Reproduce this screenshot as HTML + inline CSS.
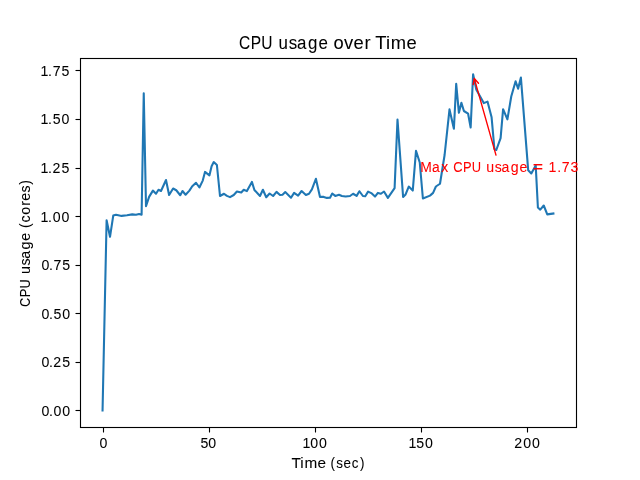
<!DOCTYPE html>
<html lang="en">
<head>
<meta charset="utf-8">
<title>CPU usage over Time</title>
<style>
html,body{margin:0;padding:0;background:#ffffff;}
body{width:640px;height:480px;overflow:hidden;font-family:"Liberation Sans",sans-serif;}
svg{display:block;will-change:transform;}
text{font-family:"Liberation Sans",sans-serif;fill:#000000;stroke:#000000;stroke-width:0.06px;white-space:pre;}
text.red{fill:#ff0000;stroke:#ff0000;}
</style>
</head>
<body>
<svg width="640" height="480" viewBox="0 0 640 480" role="img" aria-label="CPU usage over Time line chart">
<rect x="0" y="0" width="640" height="480" fill="#ffffff"/>
<!-- data line -->
<polyline fill="none" stroke="#1f77b4" stroke-width="2.083" stroke-linejoin="round" stroke-linecap="square" points="102.55,410.4 106.6,220.2 110,236.8 113.25,215.6 116,214.75 121.6,215.9 127,215.2 132.25,214.4 136,214.75 139.1,214.1 141.6,214.75 143.75,93.3 146,206.25 149.1,196.9 152.9,190.6 156,193.75 158.5,189.75 161,191 166,180 169.1,195 173.1,188.5 176.25,190.25 180.25,195.25 182.5,191 185.6,194.75 189.4,190.6 192.25,186.25 196,182.75 199.4,187.5 202.75,180.6 205,171.9 209.4,175.4 211.6,166.25 213.75,162.1 216.9,165 220,196 224,193.75 226.9,195.9 230,197.1 233.75,195 236.9,191.5 241.25,192.5 243.75,189.75 246.9,191.1 251.9,181.9 254.4,190 260,196 262.9,189.75 266.25,197.25 269.6,193.5 273.1,196 276.5,191.9 280,195 282.5,194.75 285.25,192.1 291,197.75 294.1,192.9 298.1,195.6 301.6,191 305.9,195 309,193.75 311.9,189.4 315.9,178.75 320,196.9 323.75,196.9 326.9,197.9 330,197.75 332.25,193.5 335.25,195.9 339,194.75 341.9,196 345.6,196.5 350,196 353.1,193.75 356.6,195.9 359.4,191.25 362.9,196 365.25,196.25 368.1,191.6 371.25,193.1 375,196.6 377.9,192.9 380.9,193.75 384,191.5 387.9,197.9 394.6,188.1 397.5,119.5 403.1,196.9 405.6,194.4 408.75,186.6 412.75,190.6 416,150.8 419.75,162.5 422.9,198.5 430,195.6 433.1,192.9 435.9,186.5 440,183.75 444.6,155 449.5,109.4 453.9,128.8 456.2,83.9 458.9,112.8 461.4,102.7 463.9,111 468.1,113.7 470.65,127.5 473.1,74.3 476.25,89.4 483.75,103.1 487.5,101.6 491.6,117.3 494.4,149 496.3,150 500.6,138.1 503.1,109.2 507.4,119.3 511.25,96.5 515.6,81.3 518.1,88.7 520.9,77.6 528.2,170.3 531.3,173.5 535.7,165.4 537.9,207.5 540.25,209.6 543.75,205.5 547.25,214.4 553.4,213.5"/>
<!-- ticks and spines -->
<g stroke="#000000" stroke-width="1.111" fill="none">
<line x1="103.5" y1="427.5" x2="103.5" y2="432.5"/>
<line x1="209.5" y1="427.5" x2="209.5" y2="432.5"/>
<line x1="315.5" y1="427.5" x2="315.5" y2="432.5"/>
<line x1="421.5" y1="427.5" x2="421.5" y2="432.5"/>
<line x1="527.5" y1="427.5" x2="527.5" y2="432.5"/>
<line x1="75.5" y1="410.5" x2="80.5" y2="410.5"/>
<line x1="75.5" y1="362.5" x2="80.5" y2="362.5"/>
<line x1="75.5" y1="313.5" x2="80.5" y2="313.5"/>
<line x1="75.5" y1="265.5" x2="80.5" y2="265.5"/>
<line x1="75.5" y1="216.5" x2="80.5" y2="216.5"/>
<line x1="75.5" y1="168.5" x2="80.5" y2="168.5"/>
<line x1="75.5" y1="119.5" x2="80.5" y2="119.5"/>
<line x1="75.5" y1="70.5" x2="80.5" y2="70.5"/>
<rect x="80.5" y="58.5" width="496" height="369"/>
</g>
<!-- annotation arrow -->
<g stroke="#ff0000" stroke-width="1.389" fill="none" stroke-linecap="round" stroke-linejoin="round">
<line x1="495.98" y1="155.08" x2="474.32" y2="78.57"/>
<polyline points="473.16,84.67 474.32,78.57 478.51,83.16"/>
</g>
<!-- text: one run per word; glyph x positions follow the reference layout -->
<text transform="translate(98.17,448) scale(0.957,1)" font-size="14.8" x="1.29" y="0">0</text>
<text transform="translate(199.93,448) scale(0.957,1)" font-size="14.8" x="0.48 8.6" y="0">50</text>
<text transform="translate(301.63,448) scale(0.957,1)" font-size="14.8" x="0.87 9.04 18.18" y="0">100</text>
<text transform="translate(407.77,448) scale(0.957,1)" font-size="14.8" x="0.72 8.87 18.04" y="0">150</text>
<text transform="translate(513.97,448) scale(0.957,1)" font-size="14.8" x="0.29 9.6 18.74" y="0">200</text>
<text transform="translate(39.65,416) scale(0.957,1)" font-size="14.8" x="1.83 9.74 14.5 23.65" y="0">0.00</text>
<text transform="translate(39.65,367) scale(0.957,1)" font-size="14.8" x="1.83 9.74 14.34 23.63" y="0">0.25</text>
<text transform="translate(39.65,319) scale(0.957,1)" font-size="14.8" x="1.83 9.74 14.49 23.65" y="0">0.50</text>
<text transform="translate(39.65,270) scale(0.957,1)" font-size="14.8" x="1.83 9.74 14.53 23.63" y="0">0.75</text>
<text transform="translate(39.53,222) scale(0.957,1)" font-size="14.8" x="0.97 8.95 13.72 22.86" y="0">1.00</text>
<text transform="translate(39.53,173) scale(0.957,1)" font-size="14.8" x="0.97 8.95 13.55 22.84" y="0">1.25</text>
<text transform="translate(39.53,124) scale(0.957,1)" font-size="14.8" x="0.97 8.95 13.7 22.86" y="0">1.50</text>
<text transform="translate(39.53,76) scale(0.957,1)" font-size="14.8" x="0.97 8.95 13.74 22.84" y="0">1.75</text>
<text transform="translate(239.12,49) scale(0.873,1)" font-size="17.76" x="-0.08 13.22 25.23 38.66" y="0">CPU </text>
<text transform="translate(239.12,49) scale(0.9518,1)" font-size="17.76" x="41.5 52.27 60.95 72.29 83.31 93.64" y="0">usage </text>
<text transform="translate(239.12,49) scale(1.0341,1)" font-size="17.76" x="91.2 101.38 110.62 121.14 127.17" y="0">over </text>
<text transform="translate(239.12,49) scale(1.0355,1)" font-size="17.76" x="131.59 141.81 146.43 161.65" y="0">Time</text>
<text transform="translate(291.75,468) scale(1.0353,1)" font-size="14.8" x="-0.17 8.29 12.21 24.91 33.08" y="0">Time </text>
<text transform="translate(291.75,468) scale(0.9072,1)" font-size="14.8" x="42.79 48.97 57.11 66.17 75.13" y="0">(sec)</text>
<text transform="translate(30,307.05) rotate(-90) scale(0.8722,1)" font-size="14.8" x="0.12 11.33 21.28 32.39" y="0">CPU </text>
<text transform="translate(30,307.05) rotate(-90) scale(0.9571,1)" font-size="14.8" x="34.49 43.35 50.52 60.08 69.33 77.84" y="0">usage </text>
<text transform="translate(30,307.05) rotate(-90) scale(0.9527,1)" font-size="14.8" x="82.86 88.68 96.88 106.33 111.66 120.33 128.39" y="0">(cores)</text>
<text class="red" transform="translate(420.07,172) scale(0.9378,1)" font-size="14.8" x="0.16 12.66 22.57 30.71" y="0">Max </text>
<text class="red" transform="translate(420.07,172) scale(0.8722,1)" font-size="14.8" x="38.16 49.37 59.32 70.43" y="0">CPU </text>
<text class="red" transform="translate(420.07,172) scale(0.9571,1)" font-size="14.8" x="69.16 78.02 85.19 94.75 104 112.51" y="0">usage </text>
<text class="red" transform="translate(420.07,172) scale(1.1997,1)" font-size="14.8" x="93.93 103.1" y="0">= </text>
<text class="red" transform="translate(420.07,172) scale(0.957,1)" font-size="14.8" x="134.29 143.31 148.1 157.3" y="0">1.73</text>
</svg>
</body>
</html>
